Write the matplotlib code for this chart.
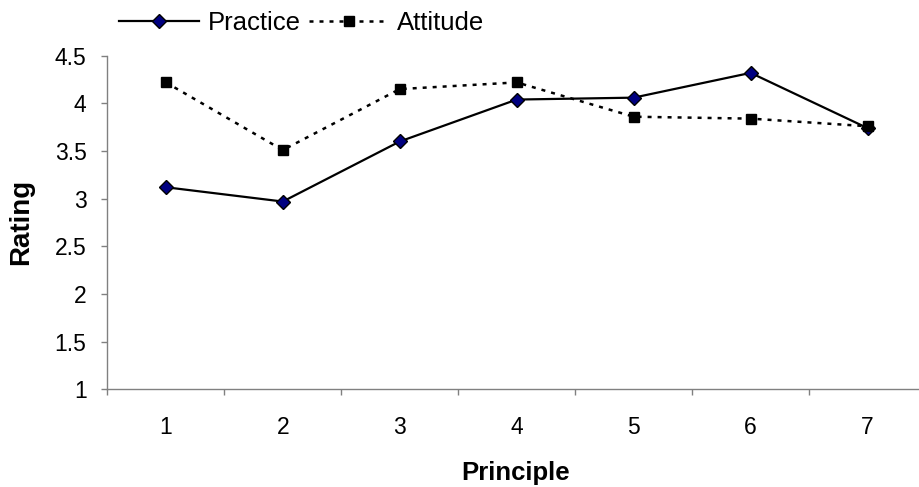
import numpy as np
import matplotlib
matplotlib.use("Agg")
import matplotlib.pyplot as plt
from matplotlib.ticker import FixedLocator, NullFormatter

plt.rcParams["font.family"] = ["Liberation Sans", "DejaVu Sans"]

# -----------------------------------------------------------------
# Data
# -----------------------------------------------------------------
principles = ["1", "2", "3", "4", "5", "6", "7"]
practice = [3.12, 2.97, 3.60, 4.04, 4.06, 4.32, 3.74]
attitude = [4.22, 3.51, 4.15, 4.22, 3.86, 3.84, 3.76]
y_ticks = [1, 1.5, 2, 2.5, 3, 3.5, 4, 4.5]

axis_grey = "#808080"

fig = plt.figure(figsize=(9.19, 4.87), dpi=100)
ax = fig.add_axes([0.1168, 0.2006, 0.8909, 0.685])

x = np.arange(len(principles))
ax.plot(x, practice, color="black", linewidth=1.6, marker="D",
        markersize=7, markerfacecolor="#000080", markeredgecolor="black",
        markeredgewidth=1.0, label="Practice")
ax.plot(x, attitude, color="black", linewidth=1.8, linestyle=(0, (1.6, 2.4)),
        marker="s", markersize=7.5, markerfacecolor="black",
        markeredgecolor="black", label="Attitude")

ax.set_xlim(-0.5, len(principles) - 0.5)
ax.set_ylim(1, 4.5)

# category axis: ticks between categories, labels centred on categories
ax.xaxis.set_major_locator(FixedLocator(np.arange(-0.5, len(principles), 1.0)))
ax.xaxis.set_major_formatter(NullFormatter())
ax.xaxis.set_minor_locator(FixedLocator(x))
ax.set_xticklabels(principles, minor=True)
ax.tick_params(axis="x", which="major", length=4, color=axis_grey, width=1)
ax.tick_params(axis="x", which="minor", length=0, pad=19, labelsize=16.5)

ax.set_yticks(y_ticks)
ax.set_yticklabels([f"{v:g}" for v in y_ticks])
ax.tick_params(axis="y", length=4, color=axis_grey, width=1, pad=11, labelsize=16.5)

for side in ["top", "right"]:
    ax.spines[side].set_visible(False)
for side in ["left", "bottom"]:
    ax.spines[side].set_color(axis_grey)
    ax.spines[side].set_linewidth(1)

ax.set_xlabel("Principle", fontsize=18.5, fontweight="bold")
ax.set_ylabel("Rating", fontsize=20, fontweight="bold")
ax.xaxis.set_label_coords(0.499, -0.215)
ax.yaxis.set_label_coords(-0.089, 0.503)

fig.legend(loc="center", bbox_to_anchor=(0.3286, 0.952), ncol=2,
           frameon=False, fontsize=18.5, handlelength=3.1, handletextpad=0.35,
           columnspacing=0.3)

fig.savefig("out.png", dpi=100)
